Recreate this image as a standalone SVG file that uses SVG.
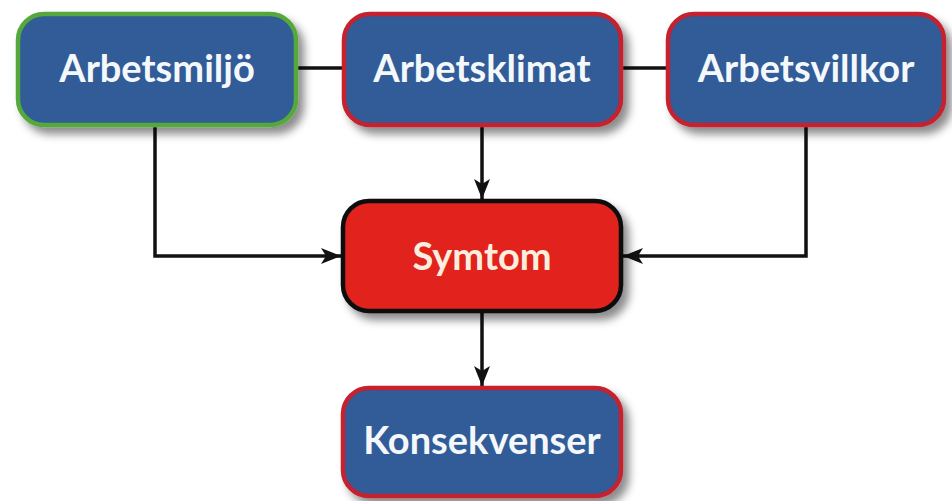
<svg xmlns="http://www.w3.org/2000/svg" width="952" height="501" viewBox="0 0 952 501">
  <defs>
    <filter id="sh" x="-10%" y="-10%" width="130%" height="140%">
      <feDropShadow dx="6" dy="7" stdDeviation="4" flood-color="#000" flood-opacity="0.45"/>
    </filter>
    <marker id="arrow" viewBox="0 0 20 16" refX="20" refY="8" markerWidth="20" markerHeight="16" markerUnits="userSpaceOnUse" orient="auto">
      <path d="M0,0 L20,8 L0,16 L5,8 Z" fill="#111"/>
    </marker>
  </defs>
  <style>
    .box { fill: #305b98; stroke: #c4202e; stroke-width: 4.5; filter: url(#sh); }
    .green { stroke: #55a83a; }
    .red { fill: #e2231a; stroke: #111; }
    .lbl { font-family: Lato, "Open Sans", "Liberation Sans", sans-serif; font-weight: bold; font-size: 38px; fill: #f4f8fa; text-anchor: middle; }
    .sym { fill: #fbeede; }
    .con { fill: none; stroke: #111; stroke-width: 3.5; }
  </style>
  <rect width="952" height="501" fill="#ffffff"/>
  <g id="connectors">
    <line class="con" x1="297" y1="68" x2="344" y2="68"/>
    <line class="con" x1="621" y1="68" x2="668" y2="68"/>
    <polyline class="con" points="155,126 155,256 341,256" marker-end="url(#arrow)"/>
    <polyline class="con" points="806,126 806,256 623,256" marker-end="url(#arrow)"/>
    <line class="con" x1="482" y1="126" x2="482" y2="199" marker-end="url(#arrow)"/>
    <line class="con" x1="482" y1="312" x2="482" y2="386" marker-end="url(#arrow)"/>
  </g>
  <g id="arbetsmiljo">
    <rect class="box green" x="18" y="14" width="278" height="111" rx="26"/>
    <text class="lbl" x="157" y="82">Arbetsmiljö</text>
  </g>
  <g id="arbetsklimat">
    <rect class="box" x="344" y="14" width="277" height="111" rx="26"/>
    <text class="lbl" x="482" y="82">Arbetsklimat</text>
  </g>
  <g id="arbetsvillkor">
    <rect class="box" x="668" y="14" width="276" height="111" rx="26"/>
    <text class="lbl" x="806" y="82">Arbetsvillkor</text>
  </g>
  <g id="symtom">
    <rect class="box red" x="343" y="201" width="278" height="110" rx="26"/>
    <text class="lbl sym" x="482" y="270">Symtom</text>
  </g>
  <g id="konsekvenser">
    <rect class="box" x="343" y="388" width="278" height="108" rx="26"/>
    <text class="lbl" x="482" y="454">Konsekvenser</text>
  </g>
</svg>
